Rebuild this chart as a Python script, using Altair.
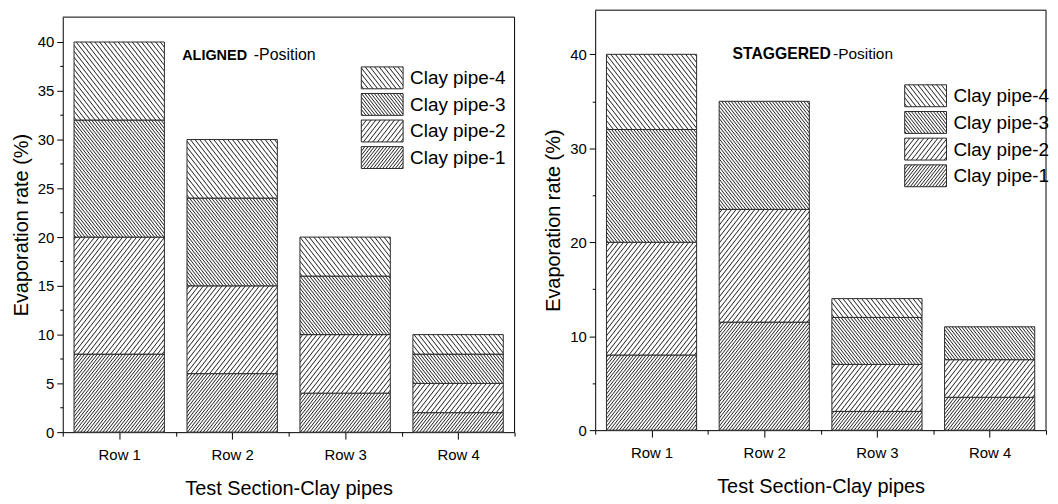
import math
import json
import altair as alt

# ---------------- data ----------------
rows = ["Row 1", "Row 2", "Row 3", "Row 4"]
series = ["Clay pipe-1", "Clay pipe-2", "Clay pipe-3", "Clay pipe-4"]

aligned_pipe1 = [8, 6, 4, 2]
aligned_pipe2 = [12, 9, 6, 3]
aligned_pipe3 = [12, 9, 6, 3]
aligned_pipe4 = [8, 6, 4, 2]

staggered_pipe1 = [8, 11.5, 2, 3.5]
staggered_pipe2 = [12, 12, 5, 4]
staggered_pipe3 = [12, 11.5, 5, 3.5]
staggered_pipe4 = [8, 0, 2, 0]

aligned_y_ticks = [0, 2.5, 5, 7.5, 10, 12.5, 15, 17.5, 20, 22.5, 25, 27.5, 30, 32.5, 35, 37.5, 40]
staggered_y_ticks = [0, 5, 10, 15, 20, 25, 30, 35, 40]

# ---------------- style ----------------
FONT = "Liberation Sans"
PAPER = "#ffffff"
INK = "#2a2a2a"
HATCH = {
    "Clay pipe-1": ("/", 2.5),
    "Clay pipe-2": ("/", 3.7),
    "Clay pipe-3": ("\\", 2.5),
    "Clay pipe-4": ("\\", 3.7),
}


def hatch(w, h, d, direction, theta=52.0, lw=0.85):
    """Striped linear gradient that looks like a hatch fill for a w x h box."""
    th = math.radians(theta)
    sn, cs = math.sin(th), math.cos(th)
    L = w * sn + h * cs
    a = w * sn / L
    b = -h * cs / L
    n2 = a * a + b * b
    dx, dy = a / n2, b / n2
    if direction == "\\":
        x1, x2 = 0.0, dx
    else:
        x1, x2 = 1.0, 1.0 - dx
    y1, y2 = 1.0, 1.0 + dy
    stops = [{"offset": 0, "color": PAPER}]
    hw = lw / L
    pos = d * 0.5
    while pos < L:
        tc = pos / L
        lo = max(tc - hw, 0.0)
        hi = min(tc + hw, 1.0)
        stops += [
            {"offset": round(lo, 5), "color": PAPER},
            {"offset": round(tc, 5), "color": INK},
            {"offset": round(hi, 5), "color": PAPER},
        ]
        pos += d
    stops.append({"offset": 1, "color": PAPER})
    return {"gradient": "linear", "x1": round(x1, 5), "y1": y1,
            "x2": round(x2, 5), "y2": round(y2, 5), "stops": stops}


def axis_common():
    return dict(grid=False, domainColor="#000", tickColor="#000", labelColor="#000",
                titleColor="#000", domainWidth=1, tickWidth=1, labelFont=FONT,
                titleFont=FONT, titleFontWeight="normal", labelOverlap=False,
                labelFlush=False)


def panel(pipes, ticks, major, ymax, plot_w, plot_h, top_gap, bold, bold_size, rest, rest_size,
          bold_x, rest_x, title_y, leg_x, leg_y0, leg_pitch):
    bar_w = 0.8 * plot_w / 4.0
    ky = (plot_h - top_gap) / ymax
    recs = []
    for k, s in enumerate(series):
        direction, d = HATCH[s]
        for i, r in enumerate(rows):
            v = pipes[k][i]
            if v <= 0:
                continue
            recs.append({"row": r, "idx": i + 1, "series": s, "order": k,
                         "value": v, "grad": hatch(bar_w, v * ky, d, direction)})

    row_lookup = json.dumps(rows)
    x_vals = [0.5, 1, 1.5, 2, 2.5, 3, 3.5, 4, 4.5]

    bars = alt.Chart(alt.Data(values=recs)).transform_stack(
        stack="value", groupby=["idx"], as_=["y0", "y1"],
        sort=[alt.SortField("order", order="ascending")]
    ).transform_calculate(
        xa="datum.idx - 0.4", xb="datum.idx + 0.4"
    ).mark_rect(stroke=INK, strokeWidth=1).encode(
        x=alt.X("xa:Q", scale=alt.Scale(domain=[0.5, 4.5], nice=False, zero=False),
                axis=alt.Axis(values=x_vals,
                              labelExpr=f"datum.value % 1 === 0 ? {row_lookup}[datum.value - 1] : ''",
                              tickSize={"condition": {"test": "datum.value % 1 === 0", "value": 7}, "value": 4},
                              labelFontSize=15, titleFontSize=20, labelPadding=8, titlePadding=17,
                              title="Test Section-Clay pipes", **axis_common())),
        x2="xb:Q",
        y=alt.Y("y0:Q", scale=alt.Scale(domain=[0, ymax], range=[plot_h, top_gap], nice=False, zero=True),
                axis=alt.Axis(values=ticks,
                              labelExpr=f"datum.value % {major} === 0 ? datum.label : ''",
                              tickSize={"condition": {"test": f"datum.value % {major} === 0", "value": 6}, "value": 3},
                              labelFontSize=15, titleFontSize=20, labelPadding=3, titlePadding=6,
                              title="Evaporation rate (%)", **axis_common())),
        y2="y1:Q",
        fill=alt.Fill("grad:N", scale=None),
    )

    layers = [bars]
    # frame (top and right edges of the plot box)
    layers.append(alt.Chart(alt.Data(values=[{"edge": "top"}])).mark_rule(color="#000", strokeWidth=1).encode(
        x=alt.value(0), x2=alt.value(plot_w), y=alt.value(top_gap)))
    layers.append(alt.Chart(alt.Data(values=[{"edge": "right"}])).mark_rule(color="#000", strokeWidth=1).encode(
        x=alt.value(plot_w), y=alt.value(top_gap), y2=alt.value(plot_h)))

    layers.append(alt.Chart(alt.Data(values=[{"t": bold}])).mark_text(
        align="left", baseline="alphabetic", fontSize=bold_size, fontWeight="bold", color="#000", font=FONT
    ).encode(x=alt.value(bold_x), y=alt.value(title_y), text="t:N"))
    layers.append(alt.Chart(alt.Data(values=[{"t": rest}])).mark_text(
        align="left", baseline="alphabetic", fontSize=rest_size, color="#000", font=FONT
    ).encode(x=alt.value(rest_x), y=alt.value(title_y), text="t:N"))

    for j, s in enumerate(reversed(series)):
        direction, d = HATCH[s]
        top = leg_y0 + j * leg_pitch
        layers.append(alt.Chart(alt.Data(values=[{"t": s, "grad": hatch(42, 22, d, direction)}])).mark_rect(
            stroke=INK, strokeWidth=1
        ).encode(x=alt.value(leg_x), x2=alt.value(leg_x + 42), y=alt.value(top), y2=alt.value(top + 22),
                 fill=alt.Fill("grad:N", scale=None)))
        layers.append(alt.Chart(alt.Data(values=[{"t": s}])).mark_text(
            align="left", baseline="middle", fontSize=19, color="#000", font=FONT
        ).encode(x=alt.value(leg_x + 49), y=alt.value(top + 11.5), text="t:N"))

    return alt.layer(*layers).properties(width=plot_w, height=plot_h,
                                         view=alt.ViewBackground(stroke="transparent"))


left = panel([aligned_pipe1, aligned_pipe2, aligned_pipe3, aligned_pipe4],
             aligned_y_ticks, 5, 42.55, 454, 424, 7,
             "ALIGNED", 14.5, "-Position", 16, 120, 192, 50,
             300, 57, 26.7)

right = panel([staggered_pipe1, staggered_pipe2, staggered_pipe3, staggered_pipe4],
              staggered_y_ticks, 10, 44.7, 453, 422, 0,
              "STAGGERED", 15.8, "-Position", 15.5, 138, 239, 49,
              311, 75, 26.8)

chart = alt.hconcat(left, right, spacing=27).properties(
    padding={"left": 2, "right": 0, "top": 0, "bottom": 0}
).configure(font=FONT).configure_view(stroke="transparent")

chart.save("out.html", embed_options={"renderer": "svg", "actions": False})
